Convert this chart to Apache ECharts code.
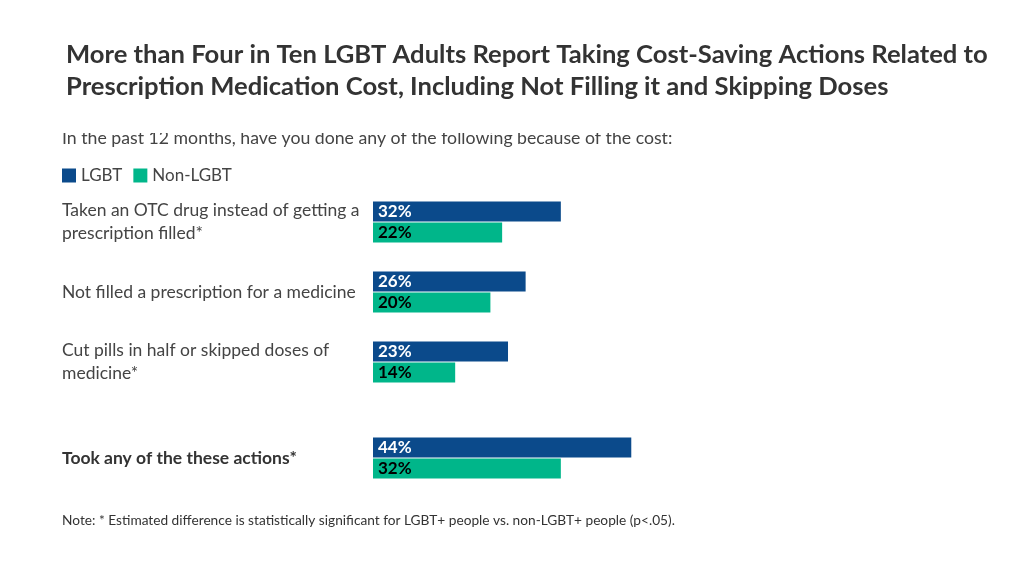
<!DOCTYPE html>
<html><head><meta charset="utf-8">
<script src="https://cdn.jsdelivr.net/npm/echarts@6/dist/echarts.min.js"></script>
<style>html,body{margin:0;padding:0;background:#fff}#c{width:1024px;height:576px}</style>
</head><body><div id="c"></div>
<script>
const categories = ['Taken an OTC drug instead of getting a\nprescription filled*', 'Not filled a prescription for a medicine', 'Cut pills in half or skipped doses of\nmedicine*'];
const summaryCategory = ['Took any of the these actions*'];
const lgbt = [32, 26, 23];
const nonLgbt = [22, 20, 14];
const lgbtAny = [44];
const nonLgbtAny = [32];
const seriesNames = ['LGBT', 'Non-LGBT'];

const BLUE = '#0b4a8b', GREEN = '#00b68a';
const FONT = 'Lato';
const chart = echarts.init(document.getElementById('c'));
function lbl(color) {
  return {show: true, position: 'insideLeft', distance: 5, formatter: '{c}%', color: color, fontFamily: FONT, fontSize: 17, fontWeight: 'bold'};
}
function bar(name, data, idx, color, lc) {
  return {name: name, type: 'bar', xAxisIndex: idx, yAxisIndex: idx, data: data, barWidth: 20, barGap: '5%',
    itemStyle: {color: color}, label: lbl(lc), emphasis: {disabled: true}, animation: false};
}
const yBase = {type: 'category', inverse: true, axisLine: {show: false}, axisTick: {show: false},
  axisLabel: {align: 'left', margin: 311, fontFamily: FONT, fontSize: 17.5, lineHeight: 23, color: '#444'}};
const xBase = {type: 'value', min: 0, max: 100, show: false};
chart.setOption({
  animation: false,
  textStyle: {fontFamily: FONT},
  grid: [
    {left: 373, top: 187, width: 587, height: 210},
    {left: 373, top: 423, width: 587, height: 70}
  ],
  xAxis: [Object.assign({gridIndex: 0}, xBase), Object.assign({gridIndex: 1}, xBase)],
  yAxis: [
    Object.assign({}, yBase, {gridIndex: 0, data: categories}),
    Object.assign({}, yBase, {gridIndex: 1, data: summaryCategory,
      axisLabel: Object.assign({}, yBase.axisLabel, {fontWeight: 'bold', color: '#333'})})
  ],
  legend: {left: 62, top: 167, padding: 0, itemWidth: 14, itemHeight: 14, itemGap: 11, icon: 'rect',
    data: seriesNames, selectedMode: false,
    textStyle: {fontFamily: FONT, fontSize: 17, color: '#444'}},
  series: [
    bar(seriesNames[0], lgbt, 0, BLUE, '#fff'),
    bar(seriesNames[1], nonLgbt, 0, GREEN, '#000'),
    bar(seriesNames[0], lgbtAny, 1, BLUE, '#fff'),
    bar(seriesNames[1], nonLgbtAny, 1, GREEN, '#000')
  ],
  graphic: [
    {type: 'text', left: 66, top: 39, style: {text: 'More than Four in Ten LGBT Adults Report Taking Cost-Saving Actions Related to\nPrescription Medication Cost, Including Not Filling it and Skipping Doses',
      fontFamily: FONT, fontSize: 25.6, fontWeight: 'bold', lineHeight: 32, fill: '#333'}},
    {type: 'text', left: 62, top: 129, style: {text: 'In the past 12 months, have you done any of the following because of the cost:',
      fontFamily: FONT, fontSize: 17.7, fill: '#444'}},
    {type: 'rect', shape: {x: 0, y: 118, width: 1024, height: 15}, style: {fill: '#fff'}},
    {type: 'text', left: 62, top: 514, style: {text: 'Note: * Estimated difference is statistically significant for LGBT+ people vs. non-LGBT+ people (p<.05).',
      fontFamily: FONT, fontSize: 13.7, fill: '#333'}}
  ]
});
</script></body></html>
